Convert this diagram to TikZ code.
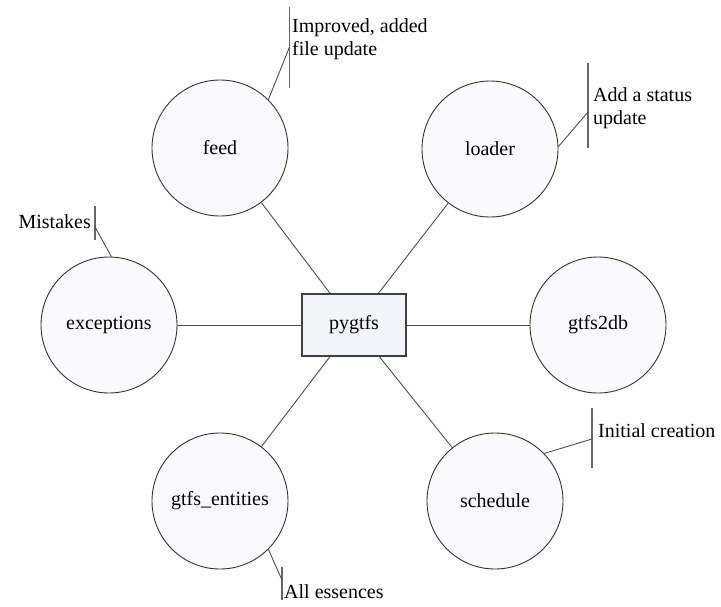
\documentclass[tikz,border=0pt]{standalone}
\usepackage{fontspec}
\setmainfont{Liberation Serif}
\usepackage{tikz}
\usetikzlibrary{shapes.geometric, calc, positioning}
\definecolor{modfill}{RGB}{250,250,254}
\definecolor{pkgfill}{RGB}{244,245,251}
\tikzstyle{module} = [circle, draw=black!80, line width=0.9pt, fill=modfill, minimum size=136pt, inner sep=0pt, text centered]
\tikzstyle{package} = [rectangle, draw=black!75, line width=1.2pt, fill=pkgfill, minimum width=104pt, minimum height=62pt, text centered]
\tikzstyle{link} = [draw=black!70, line width=0.9pt]
\tikzstyle{notebar} = [draw=black!60, line width=1.1pt]
\tikzstyle{note} = [inner sep=0pt, align=left]

\begin{document}
\begin{tikzpicture}[x=1pt, y=-1pt, font=\fontsize{20}{23}\selectfont]
		\useasboundingbox (0,0) rectangle (721,606);
		\node (Pygtfs) [package] at (354,325) {pygtfs};
		\node (Feed) [module] at (220,148) {feed};
		\node (Loader) [module] at (490,149) {loader};
		\node (Exceptions) [module] at (109,325) {exceptions};
		\node (Gtfs2db) [module] at (598,325) {gtfs2db};
		\node (GtfsEntities) [module] at (220,501) {gtfs\_entities};
		\node (Schedule) [module] at (495,501) {schedule};
		\draw [link] (Feed) -- (Pygtfs);
		\draw [link] (Loader) -- (Pygtfs);
		\draw [link] (Exceptions) -- (Pygtfs);
		\draw [link] (Gtfs2db) -- (Pygtfs);
		\draw [link] (GtfsEntities) -- (Pygtfs);
		\draw [link] (Schedule) -- (Pygtfs);
		% notes
		\coordinate (FeedBarTop) at (289.5,7);
		\coordinate (FeedBarMid) at (289.5,47);
		\coordinate (FeedBarBottom) at (289.5,88);
		\node (FeedNote) [note, anchor=base west] at (292,55) {Improved, added\\file update};
		\draw [notebar] (FeedBarTop) -- (FeedBarBottom);
		\draw [link] (Feed.45) -- (FeedBarMid);
		\coordinate (LoaderBarTop) at (588,63);
		\coordinate (LoaderBarMid) at (588,112);
		\coordinate (LoaderBarBottom) at (588,148);
		\node (LoaderNote) [note, anchor=base west] at (593,124) {Add a status\\update};
		\draw [notebar] (LoaderBarTop) -- (LoaderBarBottom);
		\draw [link] (Loader.2) -- (LoaderBarMid);
		\coordinate (ExceptionsBarTop) at (95,206);
		\coordinate (ExceptionsBarMid) at (95,227);
		\coordinate (ExceptionsBarBottom) at (95,240);
		\node (ExceptionsNote) [note, anchor=base east] at (91,228) {Mistakes};
		\draw [notebar] (ExceptionsBarTop) -- (ExceptionsBarBottom);
		\draw [link] (Exceptions.88) -- (ExceptionsBarMid);
		\coordinate (EntitiesBarTop) at (282,567);
		\coordinate (EntitiesBarMid) at (282,580);
		\coordinate (EntitiesBarBottom) at (282,600);
		\node (EntitiesNote) [note, anchor=base west] at (284,598) {All essences};
		\draw [notebar] (EntitiesBarTop) -- (EntitiesBarBottom);
		\draw [link] (GtfsEntities.-45) -- (EntitiesBarMid);
		\coordinate (ScheduleBarTop) at (592,408);
		\coordinate (ScheduleBarMid) at (592,439);
		\coordinate (ScheduleBarBottom) at (592,468);
		\node (ScheduleNote) [note, anchor=base west] at (598,437) {Initial creation};
		\draw [notebar] (ScheduleBarTop) -- (ScheduleBarBottom);
		\draw [link] (Schedule.44) -- (ScheduleBarMid);
\end{tikzpicture}
\end{document}
